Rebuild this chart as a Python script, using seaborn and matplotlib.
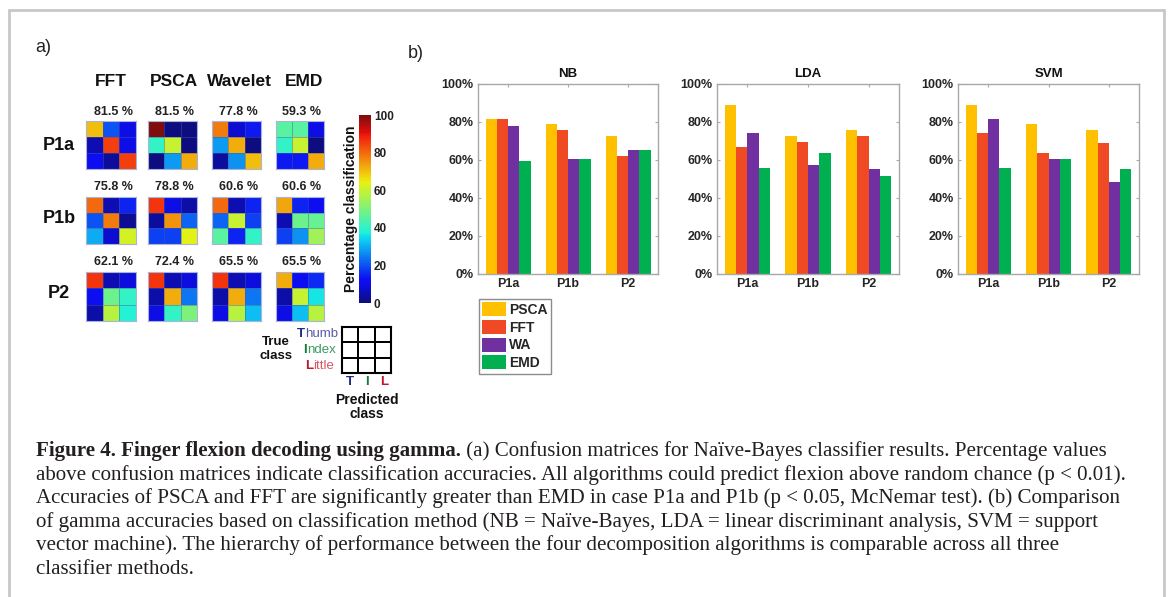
import numpy as np
import pandas as pd
import matplotlib
matplotlib.use("Agg")
import matplotlib.pyplot as plt
import seaborn as sns
from matplotlib.colors import ListedColormap
from matplotlib.lines import Line2D

# ---------------- data ----------------
cases = ["P1a", "P1b", "P2"]
methods_a = ["FFT", "PSCA", "Wavelet", "EMD"]
accuracy_p1a = [81.5, 81.5, 77.8, 59.3]
accuracy_p1b = [75.8, 78.8, 60.6, 60.6]
accuracy_p2 = [62.1, 72.4, 65.5, 65.5]

# confusion matrices (rows = true Thumb/Index/Little, cols = predicted), % per row
cm_p1a_fft = [[70, 20, 10], [5, 85, 10], [12, 3, 85]]
cm_p1a_psca = [[100, 0, 0], [40, 60, 0], [0, 28, 72]]
cm_p1a_wavelet = [[78, 8, 14], [28, 72, 0], [3, 27, 70]]
cm_p1a_emd = [[45, 45, 10], [40, 60, 0], [14, 14, 72]]
cm_p1b_fft = [[80, 5, 15], [20, 78, 2], [30, 8, 62]]
cm_p1b_psca = [[86, 10, 4], [3, 75, 22], [18, 18, 64]]
cm_p1b_wavelet = [[80, 5, 15], [22, 60, 18], [45, 15, 40]]
cm_p1b_emd = [[73, 15, 12], [5, 48, 47], [18, 27, 55]]
cm_p2_fft = [[86, 5, 9], [12, 48, 40], [4, 58, 38]]
cm_p2_psca = [[86, 5, 9], [4, 72, 24], [10, 40, 50]]
cm_p2_wavelet = [[86, 5, 9], [4, 72, 24], [10, 58, 32]]
cm_p2_emd = [[72, 12, 16], [4, 60, 36], [10, 32, 58]]

colorbar_ticks = [0, 20, 40, 60, 80, 100]

classifiers = ["NB", "LDA", "SVM"]
bar_methods = ["PSCA", "FFT", "WA", "EMD"]
# rows = case (P1a, P1b, P2), cols = method (PSCA, FFT, WA, EMD)
nb_values = [[81.5, 81.5, 77.8, 59.3], [78.8, 75.8, 60.6, 60.6], [72.4, 62.1, 65.5, 65.5]]
lda_values = [[88.9, 66.7, 74.1, 55.6], [72.7, 69.7, 57.6, 63.6], [75.9, 72.4, 55.2, 51.7]]
svm_values = [[88.9, 74.1, 81.5, 55.6], [78.8, 63.6, 60.6, 60.6], [75.9, 69.0, 48.3, 55.2]]
bar_yticks = [0, 20, 40, 60, 80, 100]

caption_bold = "Figure 4. Finger flexion decoding using gamma."
caption_lines = [
    " (a) Confusion matrices for Naïve-Bayes classifier results. Percentage values",
    "above confusion matrices indicate classification accuracies. All algorithms could predict flexion above random chance (p < 0.01).",
    "Accuracies of PSCA and FFT are significantly greater than EMD in case P1a and P1b (p < 0.05, McNemar test). (b) Comparison",
    "of gamma accuracies based on classification method (NB = Naïve-Bayes, LDA = linear discriminant analysis, SVM = support",
    "vector machine). The hierarchy of performance between the four decomposition algorithms is comparable across all three",
    "classifier methods.",
]

# ---------------- style ----------------
W, H = 1168, 597
sns.set_theme(style="white")
plt.rcParams["font.family"] = ["Liberation Sans", "DejaVu Sans"]

# slightly softened jet, like the printed figure
_jet = plt.get_cmap("jet")(np.linspace(0, 1, 256))
_jet[:, :3] = 0.9 * _jet[:, :3] + 0.1 * 0.5
soft_jet = ListedColormap(_jet)

fig = plt.figure(figsize=(W / 100, H / 100), dpi=100)
fig.patch.set_facecolor("white")


def px_axes(x0, y0, x1, y1):
    return fig.add_axes([x0 / W, 1 - y1 / H, (x1 - x0) / W, (y1 - y0) / H])


def ftext(x, y, s, **kw):
    return fig.text(x / W, 1 - y / H, s, **kw)


# outer frame (left, top, right)
frame_kw = dict(color="#c8c8c8", lw=2, transform=fig.transFigure)
fig.add_artist(Line2D([9 / W, 9 / W], [0, 1 - 10 / H], **frame_kw))
fig.add_artist(Line2D([9 / W, 1164 / W], [1 - 10 / H, 1 - 10 / H], **frame_kw))
fig.add_artist(Line2D([1164 / W, 1164 / W], [0, 1 - 10 / H], **frame_kw))

# ---------------- panel a ----------------
ftext(43, 48, "a)", fontsize=13, ha="center", va="center", color="#222222")

col_px = [(86, 136), (148, 197), (212, 261), (276, 324)]
row_px = [(121, 169), (197, 244), (272, 321)]
header_x = [111, 174, 239, 304]
row_label_y = [146, 219, 294]
pct_y = [112, 187, 262]

for hx, m in zip(header_x, methods_a):
    ftext(hx, 82, m, fontsize=12.5, fontweight="bold", ha="center", va="center", color="#111111")
for ry, c in zip(row_label_y, cases):
    ftext(59, ry, c, fontsize=13, fontweight="bold", ha="center", va="center", color="#111111")

cms = [
    [cm_p1a_fft, cm_p1a_psca, cm_p1a_wavelet, cm_p1a_emd],
    [cm_p1b_fft, cm_p1b_psca, cm_p1b_wavelet, cm_p1b_emd],
    [cm_p2_fft, cm_p2_psca, cm_p2_wavelet, cm_p2_emd],
]
accs = [accuracy_p1a, accuracy_p1b, accuracy_p2]

cax = px_axes(359, 115, 371, 303)
first = True
for r in range(3):
    for c in range(4):
        x0, x1 = col_px[c]
        y0, y1 = row_px[r]
        ax = px_axes(x0, y0, x1, y1)
        sns.heatmap(np.array(cms[r][c], dtype=float), ax=ax, cmap=soft_jet, vmin=0, vmax=100,
                    cbar=first, cbar_ax=cax if first else None,
                    xticklabels=False, yticklabels=False,
                    linewidths=0.4, linecolor=(0.3, 0.35, 0.6, 0.45))
        for sp in ax.spines.values():
            sp.set_visible(True)
            sp.set_color("#aab4d8")
            sp.set_linewidth(0.8)
        if first:
            cb = ax.collections[0].colorbar
            first = False
        ftext((x0 + x1) / 2 + 2, pct_y[r], f"{accs[r][c]} %", fontsize=9, fontweight="bold",
              ha="center", va="center", color="#222222")

cb.set_ticks(colorbar_ticks)
cb.outline.set_visible(False)
cb.ax.tick_params(labelsize=8.5, length=0, pad=2, colors="#222222")
for t in cb.ax.get_yticklabels():
    t.set_fontweight("bold")
cb.ax.yaxis.set_label_position("left")
cb.set_label("Percentage classification", fontsize=10, fontweight="bold", labelpad=1, color="#111111")

# legend grid for confusion matrices
gax = px_axes(342, 327, 391, 373)
sns.heatmap(np.zeros((3, 3)), ax=gax, cmap=ListedColormap(["white"]), cbar=False,
            linewidths=1.3, linecolor="black", xticklabels=False, yticklabels=False)
for sp in gax.spines.values():
    sp.set_visible(True)
    sp.set_color("black")
    sp.set_linewidth(1.5)

fig.canvas.draw()
renderer = fig.canvas.get_renderer()

class_labels = [("T", "humb", "#1f2a80", "#5a5aaa", 334, 338),
                ("I", "ndex", "#167a3a", "#3a9a62", 350, 336),
                ("L", "ittle", "#c0182a", "#d85565", 366, 334)]
for first_letter, rest, c1, c2, yy, xr in class_labels:
    t_rest = ftext(xr, yy, rest, fontsize=9.5, ha="right", va="center", color=c2)
    bb = t_rest.get_window_extent(renderer)
    ftext(bb.x0, yy, first_letter, fontsize=9.5, fontweight="bold", ha="right", va="center", color=c1)

ftext(276, 342, "True", fontsize=9.5, fontweight="bold", ha="center", va="center", color="#111111")
ftext(276, 356, "class", fontsize=9.5, fontweight="bold", ha="center", va="center", color="#111111")
for lx, lt, lc in [(350, "T", "#1f2a80"), (367, "I", "#167a3a"), (384, "L", "#c0182a")]:
    ftext(lx, 382, lt, fontsize=9.5, fontweight="bold", ha="center", va="center", color=lc)
ftext(367, 400, "Predicted", fontsize=10, fontweight="bold", ha="center", va="center", color="#111111")
ftext(367, 414, "class", fontsize=10, fontweight="bold", ha="center", va="center", color="#111111")

# ---------------- panel b ----------------
ftext(416, 53, "b)", fontsize=13, ha="center", va="center", color="#222222")

bar_colors = ["#FFC000", "#F04A25", "#7030A0", "#00B050"]
bar_axes_px = [(478, 84, 658, 274), (717, 84, 899, 274), (958, 84, 1139, 274)]
all_values = [nb_values, lda_values, svm_values]

for i, (name, vals) in enumerate(zip(classifiers, all_values)):
    df = pd.DataFrame(
        [(cs, m, vals[ci][mi]) for ci, cs in enumerate(cases) for mi, m in enumerate(bar_methods)],
        columns=["case", "method", "value"],
    )
    ax = px_axes(*bar_axes_px[i])
    sns.barplot(data=df, x="case", y="value", hue="method", hue_order=bar_methods,
                palette=bar_colors, width=0.75, gap=0, saturation=1, ax=ax,
                legend=(i == 0), edgecolor="none", linewidth=0, errorbar=None)
    ax.set_xlim(-0.5, 2.5)
    ax.set_ylim(0, 100)
    ax.set_yticks(bar_yticks)
    ax.set_yticklabels([f"{v}%" for v in bar_yticks])
    ax.set_xlabel("")
    ax.set_ylabel("")
    ax.set_title(name, fontsize=9.5, fontweight="bold", pad=5, color="#111111")
    for sp in ax.spines.values():
        sp.set_visible(True)
        sp.set_color("#a8a8a8")
        sp.set_linewidth(1.0)
    ax.tick_params(axis="both", which="both", direction="in", length=2.5, width=0.8,
                   color="#a8a8a8", bottom=True, top=True, left=True, right=True,
                   labelsize=9, labelcolor="#262626", pad=3)
    for t in ax.get_xticklabels() + ax.get_yticklabels():
        t.set_fontweight("bold")
    if i == 0:
        leg = ax.get_legend()
        handles = leg.legend_handles
        labels = [t.get_text() for t in leg.get_texts()]
        leg.remove()
        fig.legend(handles, labels, loc="upper left",
                   bbox_to_anchor=(479 / W, 1 - 299 / H), bbox_transform=fig.transFigure,
                   fancybox=False, frameon=True, edgecolor="#8c8c8c", framealpha=1,
                   prop={"weight": "bold", "size": 10},
                   handlelength=1.7, handleheight=1.15, labelspacing=0.22,
                   handletextpad=0.2, borderpad=0.25, borderaxespad=0)

# ---------------- caption ----------------
cap_font = ["Liberation Serif", "DejaVu Serif"]
probe = ftext(36, 480, caption_lines[1], fontsize=14, family=cap_font)
pw = probe.get_window_extent(renderer).width
probe.remove()
cap_size = 14 * (1132 - 36) / pw

baselines = [456 + 23.6 * k for k in range(6)]
tb = ftext(36, baselines[0], caption_bold, fontsize=cap_size, fontweight="bold",
           family=cap_font, va="baseline", color="#231f20")
fig.canvas.draw()
bw = tb.get_window_extent(renderer).x1
fig.text(bw / W, 1 - baselines[0] / H, caption_lines[0], fontsize=cap_size,
         family=cap_font, va="baseline", color="#231f20")
for k in range(1, 6):
    ftext(36, baselines[k], caption_lines[k], fontsize=cap_size, family=cap_font,
          va="baseline", color="#231f20")

fig.savefig("out.png", dpi=100, facecolor="white")
